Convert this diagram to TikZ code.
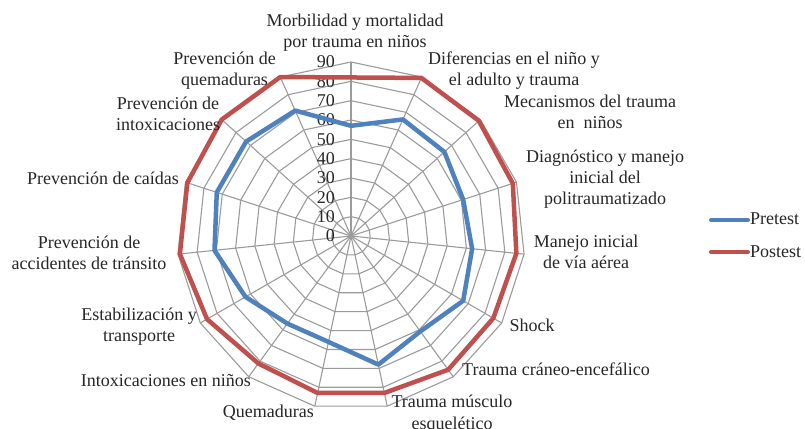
\documentclass[tikz,border=0pt]{standalone}
\usepackage{fontspec}
\setmainfont{Liberation Serif}

\definecolor{gridgray}{RGB}{155,155,155}
\definecolor{preblue}{RGB}{79,129,189}
\definecolor{postred}{RGB}{192,80,77}

\tikzset{
  grid line/.style={draw=gridgray, line width=1.1pt},
  pretest/.style={draw=preblue, line width=4.5pt, line join=round},
  postest/.style={draw=postred, line width=4.5pt, line join=round},
  lbl/.style={align=center, inner sep=0pt, anchor=base, text=black!85,
    font=\fontsize{18}{21}\selectfont},
  tick/.style={inner sep=0pt, anchor=east, text=black!85,
    font=\fontsize{18}{21}\selectfont}
}

\begin{document}
\begin{tikzpicture}[x=1pt, y=1pt]
  \useasboundingbox (0,0) rectangle (805,428);
  \def\u{1.9333}

  %%%%%%%%%%%%%%%%%%%%%%%%%%%%%%%%%%%%%%%%%%%%%%%%%
  \begin{scope}[shift={(351,192)}]
    % Rings
    \foreach \r in {10,20,...,90}
      \draw[grid line] (90:{\r*\u}) \foreach \k in {1,...,14}{ -- ({90-24*\k}:{\r*\u})} -- cycle;

    % Spokes
    \foreach \k in {0,...,14}
      \draw[grid line] (0,0) -- ({90-24*\k}:{90*\u});

    % Scale
    \foreach \r in {0,10,...,90}
      \node[tick] (t\r) at (-16,{\r*\u}) {\r};

    % Pretest
    \foreach \v [count=\k from 0] in {57,66,65,61,63,67,61,68,56,56,63,71,73,73,71}
      \coordinate (pre\k) at ({90-24*\k}:{\v*\u});
    \draw[pretest] (pre0) \foreach \k in {1,...,14}{ -- (pre\k)} -- cycle;

    % Postest
    \foreach \v [count=\k from 0] in {82,89.5,89,88,86,85,85.5,83,83,81.5,86,89,89,90,90}
      \coordinate (post\k) at ({90-24*\k}:{\v*\u});
    \draw[postest] (post0) \foreach \k in {1,...,14}{ -- (post\k)} -- cycle;
  \end{scope}

  %%%%%%%%%%%%%%%%%%%%%%%%%%%%%%%%%%%%%%%%%%%%%%%%%
  % Axis labels (at the baseline of the last line)
  \node[lbl] (morb) at (355,380.5) {Morbilidad y mortalidad\\por trauma en niños};
  \node[lbl] (dife) at (514,342.5) {Diferencias en el niño y\\el adulto y trauma};
  \node[lbl] (meca) at (590,299) {Mecanismos del trauma\\en\ \ niños};
  \node[lbl] (diag) at (605,223.5) {Diagnóstico y manejo\\inicial del\\politraumatizado};
  \node[lbl] (mane) at (586,159) {Manejo inicial\\de vía aérea};
  \node[lbl] (shock) at (532,96.3) {Shock};
  \node[lbl] (crane) at (556,52) {Trauma cráneo-encefálico};
  \node[lbl] (muscu) at (452,-1) {Trauma músculo\\esquelético};
  \node[lbl] (quem) at (268.3,10.7) {Quemaduras};
  \node[lbl] (intox) at (165.8,41.3) {Intoxicaciones en niños};
  \node[lbl] (estab) at (139,86.5) {Estabilización y\\transporte};
  \node[lbl] (pacci) at (89,158.3) {Prevención de\\accidentes de tránsito};
  \node[lbl] (pcaid) at (103,243) {Prevención de caídas};
  \node[lbl] (pintox) at (168,297.5) {Prevención de\\intoxicaciones};
  \node[lbl] (pquem) at (224.5,342.5) {Prevención de\\quemaduras};

  % Legend
  \draw[pretest, line width=4pt, line cap=round] (711,208) -- (748,208);
  \node[lbl, anchor=base west] (legpre) at (750,203) {Pretest};
  \draw[postest, line width=4pt, line cap=round] (711,176) -- (748,176);
  \node[lbl, anchor=base west] (legpost) at (750,170.7) {Postest};

\end{tikzpicture}
\end{document}
